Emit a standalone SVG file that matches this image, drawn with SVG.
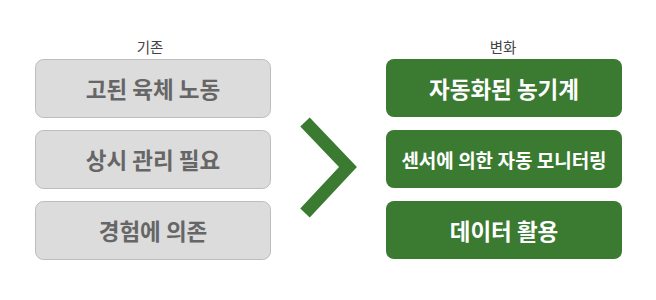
<svg xmlns="http://www.w3.org/2000/svg" width="656" height="300" viewBox="0 0 656 300">
<style>
.old rect{fill:#dcdcdc;stroke:#bdbdbd;stroke-width:1}
.old text{fill:#666;font-size:22.5px;font-weight:bold}
.new rect{fill:#3a7a31}
.new text{fill:#fff;font-size:22.5px;font-weight:bold}
text{font-family:"Noto Sans CJK KR","Noto Sans",sans-serif;text-anchor:middle;dominant-baseline:central}
.hdr{fill:#444;font-size:14.5px}
</style>
<rect width="656" height="300" fill="#fff"/>
<text class="hdr" x="150" y="46">기존</text>
<text class="hdr" x="503" y="46">변화</text>
<g id="old1" class="old"><rect x="35.5" y="59.5" width="235" height="58" rx="8"/><text x="153" y="88">고된 육체 노동</text></g>
<g id="old2" class="old"><rect x="35.5" y="130.5" width="235" height="58" rx="8"/><text x="153" y="159">상시 관리 필요</text></g>
<g id="old3" class="old"><rect x="35.5" y="201.5" width="235" height="58" rx="8"/><text x="153" y="230">경험에 의존</text></g>
<g id="connectors"><polyline points="305,122 348,167 305,213" fill="none" stroke="#3a7a31" stroke-width="13" stroke-linejoin="miter"/></g>
<g id="new1" class="new"><rect x="386" y="59" width="236" height="58" rx="8"/><text x="504" y="88">자동화된 농기계</text></g>
<g id="new2" class="new"><rect x="386" y="130" width="236" height="58" rx="8"/><text x="504" y="159" style="font-size:19px">센서에 의한 자동 모니터링</text></g>
<g id="new3" class="new"><rect x="386" y="201" width="236" height="58" rx="8"/><text x="504" y="230">데이터 활용</text></g>
</svg>
